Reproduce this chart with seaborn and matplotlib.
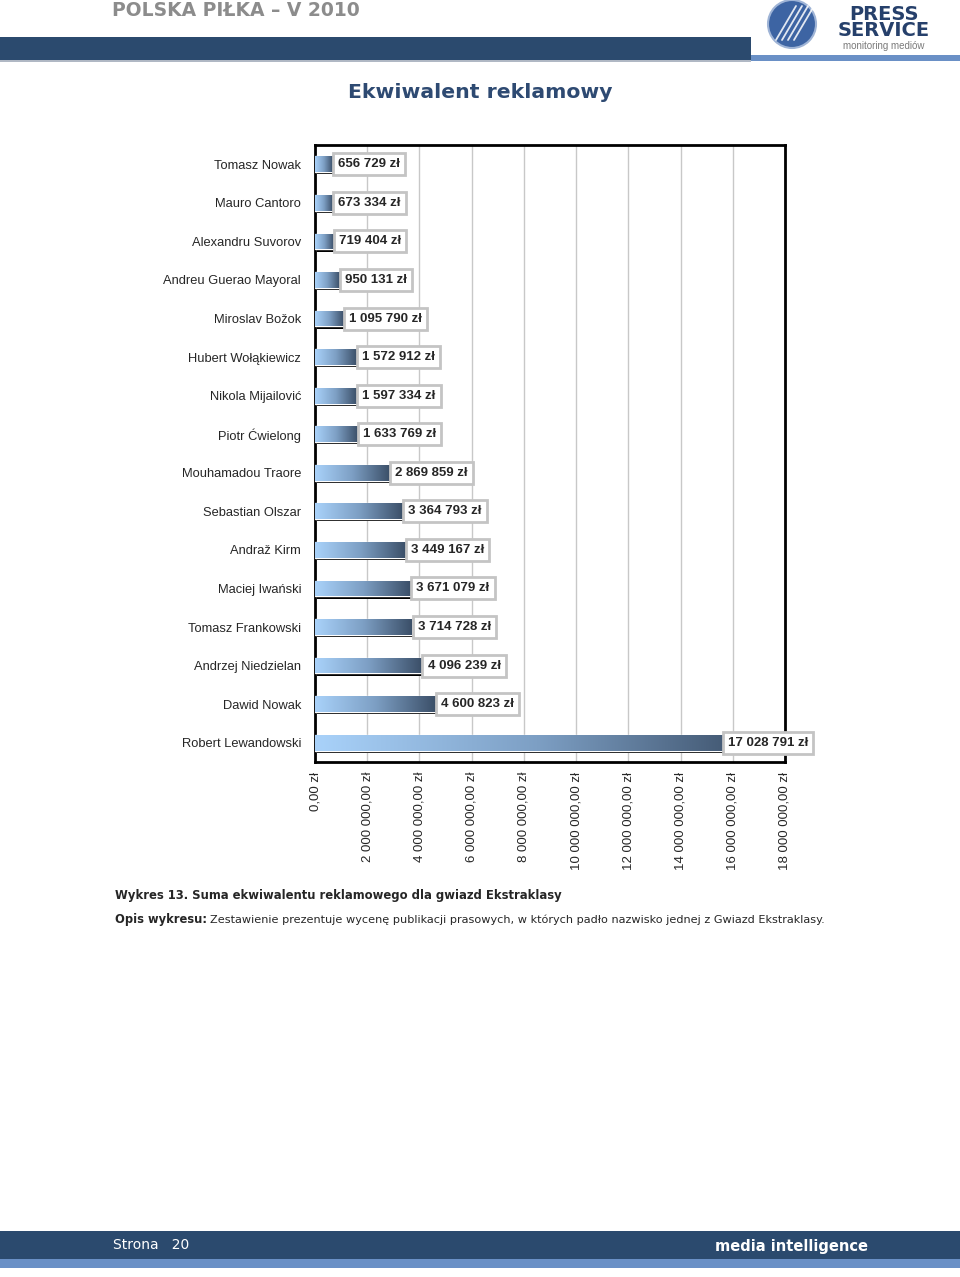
import numpy as np
import pandas as pd
import seaborn as sns
from matplotlib import pyplot as plt
import matplotlib.patches as patches
import matplotlib.patheffects as pe
from matplotlib.colors import LinearSegmentedColormap

# dane
zawodnicy = ['Tomasz Nowak', 'Mauro Cantoro', 'Alexandru Suvorov',
             'Andreu Guerao Mayoral', 'Miroslav Božok', 'Hubert Wołąkiewicz',
             'Nikola Mijailović', 'Piotr Ćwielong', 'Mouhamadou Traore',
             'Sebastian Olszar', 'Andraž Kirm', 'Maciej Iwański',
             'Tomasz Frankowski', 'Andrzej Niedzielan', 'Dawid Nowak',
             'Robert Lewandowski']
ekwiwalent = [656729, 673334, 719404, 950131, 1095790, 1572912,
              1597334, 1633769, 2869859, 3364793, 3449167, 3671079,
              3714728, 4096239, 4600823, 17028791]
x_ticks = [0, 2e6, 4e6, 6e6, 8e6, 10e6, 12e6, 14e6, 16e6, 18e6]

W, H = 960, 1277
NAVY = '#2b4a6e'
LIGHT = '#6a90c6'


def px(x, y):
    """piksele -> ulamek figury"""
    return x / W, 1 - y / H


def zl(v, dec=False):
    s = f'{int(round(v)):,}'.replace(',', ' ')
    return s + (',00 zł' if dec else ' zł')


sns.set_style('white')
plt.rcParams['font.family'] = ['Liberation Sans', 'DejaVu Sans']

fig = plt.figure(figsize=(W / 100, H / 100), dpi=100)

# naglowek
def rect(x0, y0, x1, y1, color):
    fx, fy = px(x0, y1)
    fig.add_artist(patches.Rectangle((fx, fy), (x1 - x0) / W, (y1 - y0) / H,
                                     transform=fig.transFigure, color=color,
                                     lw=0, zorder=0))

rect(0, 37, 751, 60, NAVY)
rect(751, 55, 960, 61, LIGHT)
rect(0, 60, 751, 62, '#b0b8c4')
fig.text(*px(112, 10), 'POLSKA PIŁKA – V 2010', fontsize=13.5, fontweight='bold',
         color='#8c8c8c', va='center', ha='left', family='DejaVu Sans')

# logo
cx, cy = px(792, 24)
fig.add_artist(patches.Ellipse((cx, cy), 48 / W, 48 / H, transform=fig.transFigure,
                               facecolor='#3d64a3', edgecolor='#9fb4d6', lw=1.5))
for k in range(4):
    x0, y0 = px(776 + k * 6, 40)
    x1, y1 = px(796 + k * 6, 6)
    fig.add_artist(plt.Line2D([x0, x1], [y0, y1], transform=fig.transFigure,
                              color='white', lw=1.3, alpha=0.85))
fig.text(*px(884, 14), 'PRESS', fontsize=14, fontweight='bold', color='#26406b',
         ha='center', va='center', family='DejaVu Sans')
fig.text(*px(884, 31), 'SERVICE', fontsize=14, fontweight='bold', color='#26406b',
         ha='center', va='center', family='DejaVu Sans')
fig.text(*px(884, 46), 'monitoring mediów', fontsize=7, color='#7a7a7a',
         ha='center', va='center')

# tytul
fig.text(*px(480, 92), 'Ekwiwalent reklamowy', fontsize=14.7, fontweight='bold',
         color='#2e4a72', ha='center', va='center', family='DejaVu Sans')

# wykres
ax = fig.add_axes([315 / W, 1 - 762 / H, 470 / W, 617 / H])
df = pd.DataFrame({'zawodnik': zawodnicy, 'kwota': ekwiwalent})
sns.barplot(data=df, x='kwota', y='zawodnik', orient='h', ax=ax,
            color='#7a9cc0', width=0.41, saturation=1, zorder=3)

cmap = LinearSegmentedColormap.from_list('bar', ['#a9d2fa', '#7d9fc4', '#3b4f68'])
grad = np.linspace(0, 1, 256).reshape(1, -1)
for p in ax.patches:
    p.set_path_effects([pe.SimplePatchShadow(offset=(1.6, -1.6),
                                             shadow_rgbFace='black', alpha=1),
                        pe.Normal()])
    x0, y0, w, h = p.get_x(), p.get_y(), p.get_width(), p.get_height()
    im = ax.imshow(grad, extent=[x0, x0 + w, y0 + h, y0], aspect='auto',
                   cmap=cmap, zorder=4)
    im.set_clip_path(p)

# etykiety; jak w Excelu etykieta nie wychodzi poza obszar wykresu
x_max_label = 15.6e6
for i, v in enumerate(ekwiwalent):
    ax.annotate(zl(v), (min(v, x_max_label), i), xytext=(4, 0),
                textcoords='offset points', ha='left', va='center',
                fontsize=9.5, fontweight='bold', zorder=6,
                bbox=dict(boxstyle='square,pad=0.38', facecolor='white',
                          edgecolor='#c4c4c4', lw=2))

ax.set_xlim(0, 18e6)
ax.set_ylim(len(zawodnicy) - 0.5, -0.5)
ax.set_xticks(x_ticks)
ax.set_xticklabels([zl(t, dec=True) for t in x_ticks], rotation=90,
                   fontsize=9.5)
ax.set_yticks(range(len(zawodnicy)))
ax.set_yticklabels(zawodnicy, fontsize=9.3)
ax.set_yticks(np.arange(-0.5, len(zawodnicy)), minor=True)
ax.tick_params(axis='y', which='major', length=0, pad=10)
ax.tick_params(axis='y', which='minor', length=4, width=0.8, color='#555555')
ax.tick_params(axis='x', length=4, width=0.8, color='#555555', pad=3)
ax.set_xlabel('')
ax.set_ylabel('')
ax.grid(axis='x', color='#c8c8c8', lw=1, zorder=0)
ax.set_axisbelow(True)
for s in ax.spines.values():
    s.set_color('black')
    s.set_linewidth(2)

# podpis
fig.text(*px(115, 896), 'Wykres 13. Suma ekwiwalentu reklamowego dla gwiazd Ekstraklasy',
         fontsize=8.4, fontweight='bold', ha='left', va='center', family='DejaVu Sans')
t = fig.text(*px(115, 920), 'Opis wykresu:', fontsize=8.3, fontweight='bold',
             ha='left', va='center', family='DejaVu Sans')
fig.text(*px(210, 920), 'Zestawienie prezentuje wycenę publikacji '
         'prasowych, w których padło nazwisko jednej z Gwiazd Ekstraklasy.',
         fontsize=8.1, ha='left', va='center', family='DejaVu Sans')

# stopka
rect(0, 1231, 960, 1259, NAVY)
rect(0, 1259, 960, 1268, LIGHT)
fig.text(*px(113, 1245), 'Strona   20', fontsize=10, color='white', ha='left',
         va='center', family='DejaVu Sans')
fig.text(*px(715, 1246), 'media intelligence', fontsize=10.5, fontweight='bold',
         color='white', ha='left', va='center', family='DejaVu Sans')

fig.savefig('out.png', dpi=100)
